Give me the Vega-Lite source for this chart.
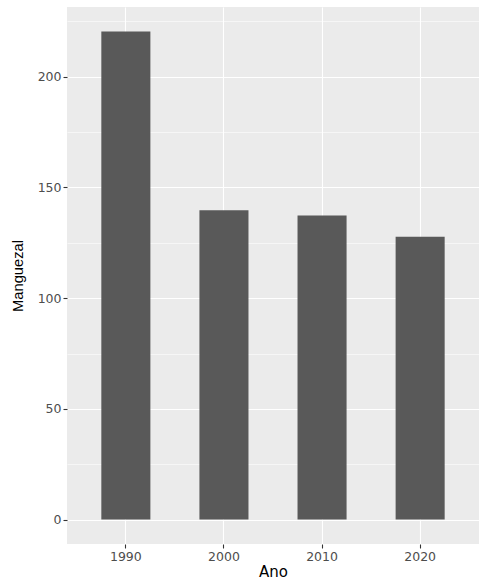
{
  "$schema": "https://vega.github.io/schema/vega-lite/v6.json",
  "width": 412,
  "height": 537,
  "autosize": {"type": "none"},
  "padding": {"left": 67, "top": 7, "right": 11, "bottom": 42},
  "background": "white",
  "config": {
    "view": {"fill": "#EBEBEB", "stroke": null},
    "font": "DejaVu Sans"
  },
  "data": {"values": [
    {"Ano": "1990", "Manguezal": 220.5},
    {"Ano": "2000", "Manguezal": 139.7},
    {"Ano": "2010", "Manguezal": 137.4},
    {"Ano": "2020", "Manguezal": 127.8}
  ]},
  "resolve": {"axis": {"y": "independent", "x": "independent"}},
  "layer": [
    {
      "mark": {"type": "bar", "opacity": 0},
      "encoding": {
        "x": {
          "field": "Ano", "type": "nominal",
          "scale": {"paddingInner": 0.5, "paddingOuter": 0.35},
          "axis": null
        },
        "y": {
          "field": "Manguezal", "type": "quantitative",
          "scale": {"domain": [-11.03, 231.53], "nice": false, "zero": false},
          "axis": {
            "orient": "left", "title": null, "values": [25, 75, 125, 175, 225],
            "domain": false, "ticks": false, "labels": false,
            "grid": true, "gridColor": "white", "gridWidth": 0.55
          }
        }
      }
    },
    {
      "mark": {"type": "bar", "color": "#595959"},
      "encoding": {
        "x": {
          "field": "Ano", "type": "nominal",
          "scale": {"paddingInner": 0.5, "paddingOuter": 0.35},
          "axis": {
            "title": "Ano", "labelAngle": 0, "domain": false,
            "bandPosition": 0.5,
            "grid": true, "gridColor": "white", "gridWidth": 1.1,
            "tickColor": "#333333", "tickSize": 4, "tickWidth": 1.1,
            "labelColor": "#4D4D4D", "labelFontSize": 12.5, "labelPadding": 2,
            "titleColor": "black", "titleFontSize": 15, "titleFontWeight": "normal",
            "titlePadding": 2
          }
        },
        "y": {
          "field": "Manguezal", "type": "quantitative",
          "scale": {"domain": [-11.03, 231.53], "nice": false, "zero": false},
          "axis": {
            "orient": "left",
            "title": "Manguezal", "values": [0, 50, 100, 150, 200], "domain": false,
            "grid": true, "gridColor": "white", "gridWidth": 1.1,
            "tickColor": "#333333", "tickSize": 4, "tickWidth": 1.1,
            "labelColor": "#4D4D4D", "labelFontSize": 12.5, "labelPadding": 2,
            "titleColor": "black", "titleFontSize": 14.7, "titleFontWeight": "normal",
            "titleFont": "Liberation Sans",
            "titlePadding": 12
          }
        }
      }
    }
  ]
}
